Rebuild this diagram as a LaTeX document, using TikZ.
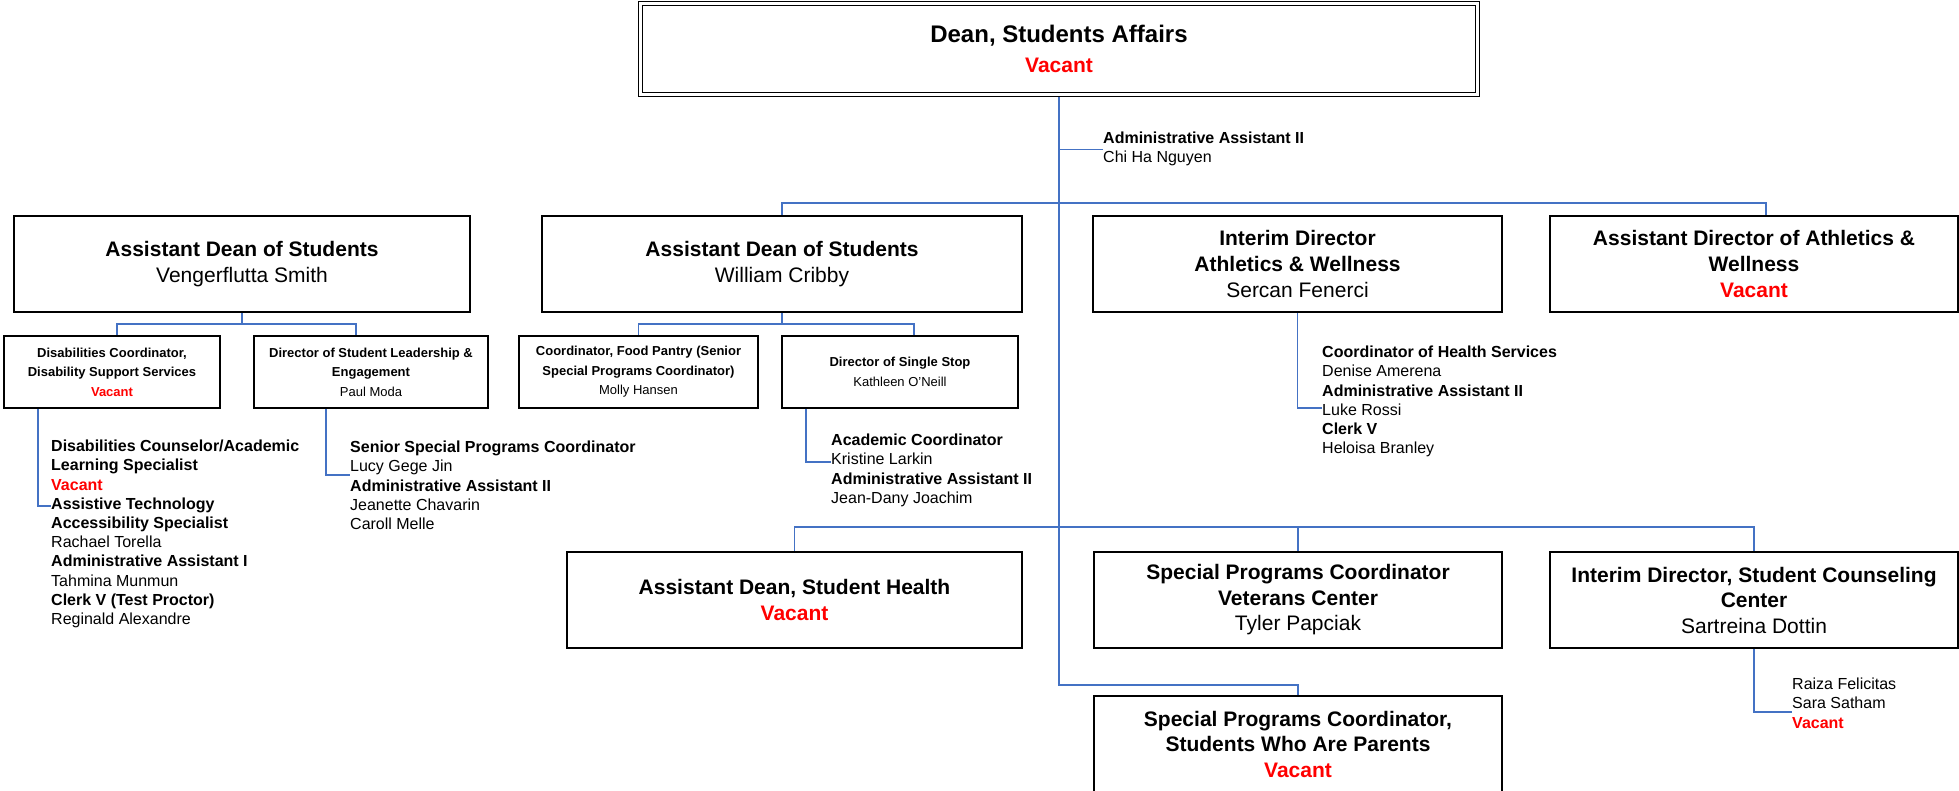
\documentclass[tikz,border=0pt]{standalone}
\usepackage{fontspec}
\setmainfont{Liberation Sans}
\usepackage{xcolor}
\usetikzlibrary{backgrounds}
\definecolor{linkblue}{RGB}{68,114,196}

\begin{document}
\begin{tikzpicture}[x=1pt, y=-1pt,
        orgbox/.style={draw, line width=2pt, minimum width=408pt, minimum height=96pt, align=center, inner sep=2pt, font=\fontsize{21}{25.5}\selectfont},
        subbox/.style={draw, line width=2pt, minimum height=72pt, align=center, inner sep=2pt, font=\fontsize{13}{19.5}\selectfont},
        staff/.style={anchor=north west, align=left, inner sep=0pt, font=\fontsize{16}{19.2}\selectfont},
        link/.style={draw=linkblue, line width=1.5pt}]
            \useasboundingbox (0,0) rectangle (1959,791);

            % top
            \node[draw, double, double distance=2.5pt, line width=1.2pt, minimum width=837pt, minimum height=91pt, align=center, font=\fontsize{24}{30}\selectfont\bfseries] (dean) at (1059,49) {Dean, Students Affairs\\ {\fontsize{21}{30}\selectfont\color{red}Vacant}};
            \node[staff] (adminasst) at (1103,132) {\textbf{Administrative Assistant II}\\ Chi Ha Nguyen};

            % second row
            \node[orgbox, minimum width=456pt] (venger) at (242,264) {\textbf{Assistant Dean of Students}\\ Vengerflutta Smith};
            \node[orgbox, minimum width=480pt] (cribby) at (782,264) {\textbf{Assistant Dean of Students}\\ William Cribby};
            \node[orgbox, minimum width=409pt, font=\fontsize{21}{26}\selectfont] (interim) at (1297.5,264) {\textbf{Interim Director}\\ \textbf{Athletics \& Wellness}\\ Sercan Fenerci};
            \node[orgbox, font=\fontsize{21}{26}\selectfont] (asstdir) at (1754,264) {\textbf{Assistant Director of Athletics \&}\\ \textbf{Wellness}\\ \textcolor{red}{\textbf{Vacant}}};

            % third row
            \node[subbox, minimum width=216pt] (discoord) at (112,372) {\textbf{Disabilities Coordinator,}\\ \textbf{Disability Support Services}\\ \textcolor{red}{\textbf{Vacant}}};
            \node[subbox, minimum width=234pt] (leadership) at (371,372) {\textbf{Director of Student Leadership \&}\\ \textbf{Engagement}\\ Paul Moda};
            \node[subbox, minimum width=239pt] (foodpantry) at (638.5,372) {\textbf{Coordinator, Food Pantry (Senior}\\ \textbf{Special Programs Coordinator)}\\ Molly Hansen};
            \node[subbox, minimum width=236pt] (singlestop) at (900,372) {\textbf{Director of Single Stop}\\ Kathleen O’Neill};

            % staff lists
            \node[staff] (dislist) at (51,440) {\textbf{Disabilities Counselor/Academic}\\ \textbf{Learning Specialist}\\ \textcolor{red}{\textbf{Vacant}}\\ \textbf{Assistive Technology}\\ \textbf{Accessibility Specialist}\\ Rachael Torella\\ \textbf{Administrative Assistant I}\\ Tahmina Munmun\\ \textbf{Clerk V (Test Proctor)}\\ Reginald Alexandre};
            \node[staff] (leadlist) at (350,441) {\textbf{Senior Special Programs Coordinator}\\ Lucy Gege Jin\\ \textbf{Administrative Assistant II}\\ Jeanette Chavarin\\ Caroll Melle};
            \node[staff] (stoplist) at (831,434) {\textbf{Academic Coordinator}\\ Kristine Larkin\\ \textbf{Administrative Assistant II}\\ Jean-Dany Joachim};
            \node[staff] (healthlist) at (1322,346) {\textbf{Coordinator of Health Services}\\ Denise Amerena\\ \textbf{Administrative Assistant II}\\ Luke Rossi\\ \textbf{Clerk V}\\ Heloisa Branley};

            % lower rows
            \node[orgbox, minimum width=455pt] (health) at (794.5,600) {\textbf{Assistant Dean, Student Health}\\ \textcolor{red}{\textbf{Vacant}}};
            \node[orgbox] (veterans) at (1298,600) {\textbf{Special Programs Coordinator}\\ \textbf{Veterans Center}\\ Tyler Papciak};
            \node[orgbox] (counseling) at (1754,600) {\textbf{Interim Director, Student Counseling}\\ \textbf{Center}\\ Sartreina Dottin};
            \node[staff] (counsellist) at (1792,678) {Raiza Felicitas\\ Sara Satham\\ \textcolor{red}{\textbf{Vacant}}};
            \node[orgbox] (parents) at (1298,744) {\textbf{Special Programs Coordinator,}\\ \textbf{Students Who Are Parents}\\ \textcolor{red}{\textbf{Vacant}}};

            % connectors
            \begin{scope}[on background layer]
                \draw[link] (dean.south) |- ([yshift=10pt]parents.north) -- (parents.north);
                \draw[link] (adminasst.west) -- (adminasst.west -| dean.south);
                \draw[link] (cribby.north) -- ++(0,-12) -| ([xshift=12pt]asstdir.north);
                \draw[link] (venger.south) -- ++(0,11) -| ([xshift=5pt]discoord.north);
                \draw[link] (venger.south) -- ++(0,11) -| ([xshift=-15pt]leadership.north);
                \draw[link] (cribby.south) -- ++(0,11) -| (foodpantry.north);
                \draw[link] (cribby.south) -- ++(0,11) -| ([xshift=14pt]singlestop.north);
                \draw[link] ([xshift=-74pt]discoord.south) |- ([yshift=-66pt]dislist.north west);
                \draw[link] ([xshift=-45pt]leadership.south) |- ([yshift=-34pt]leadlist.north west);
                \draw[link] ([xshift=-94pt]singlestop.south) |- ([yshift=-28pt]stoplist.north west);
                \draw[link] (interim.south) |- ([yshift=-62pt]healthlist.north west);
                \draw[link] (health.north) -- ++(0,-24) -| (counseling.north);
                \draw[link] (veterans.north) -- ++(0,-24);
                \draw[link] (counseling.south) |- ([yshift=-34pt]counsellist.north west);
            \end{scope}
        \end{tikzpicture}
\end{document}
